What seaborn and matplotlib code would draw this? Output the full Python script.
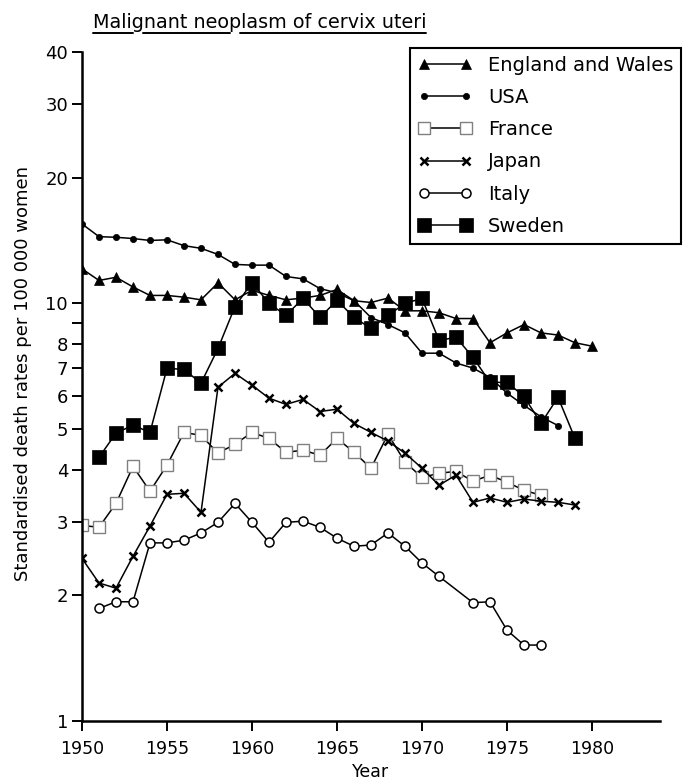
import numpy as np
import pandas as pd
import matplotlib
matplotlib.use("Agg")
import matplotlib.pyplot as plt
import seaborn as sns
from matplotlib.lines import Line2D
from matplotlib.ticker import FixedLocator, NullLocator

# ---------------- data ----------------
england_years = list(range(1950, 1981))
england = [12.1, 11.35, 11.55, 10.95, 10.45, 10.45, 10.35, 10.2, 11.2, 10.2,
           10.75, 10.45, 10.2, 10.3, 10.45, 10.8, 10.15, 10.05, 10.3, 9.6,
           9.6, 9.5, 9.2, 9.2, 8.05, 8.5, 8.9, 8.5, 8.4, 8.05, 7.9]

usa_years = list(range(1950, 1979))
usa = [15.5, 14.45, 14.4, 14.3, 14.15, 14.2, 13.75, 13.55, 13.1, 12.4,
       12.35, 12.35, 11.6, 11.45, 10.85, 10.6, 10.15, 9.25, 8.9, 8.5,
       7.6, 7.6, 7.2, 7.0, 6.65, 6.1, 5.7, 5.35, 5.1]

france_years = list(range(1950, 1978))
france = [2.94, 2.91, 3.32, 4.07, 3.55, 4.1, 4.91, 4.83, 4.38, 4.6,
          4.91, 4.75, 4.4, 4.45, 4.33, 4.75, 4.4, 4.03, 4.86, 4.17,
          3.83, 3.92, 3.96, 3.75, 3.88, 3.73, 3.57, 3.47]

japan_years = list(range(1950, 1980))
japan = [2.45, 2.14, 2.08, 2.48, 2.93, 3.49, 3.51, 3.16, 6.3, 6.8,
         6.37, 5.93, 5.73, 5.89, 5.51, 5.58, 5.16, 4.91, 4.68, 4.38,
         4.03, 3.67, 3.88, 3.34, 3.42, 3.34, 3.4, 3.36, 3.34, 3.29]

italy_years = list(range(1951, 1972)) + list(range(1973, 1978))
italy = [1.86, 1.93, 1.93, 2.67, 2.67, 2.71, 2.82, 2.99, 3.32,
         2.99, 2.68, 2.99, 3.01, 2.91, 2.74, 2.62, 2.64, 2.82, 2.62,
         2.39, 2.22, 1.92, 1.93, 1.65, 1.52, 1.52]

sweden_years = list(range(1951, 1980))
sweden = [4.28, 4.89, 5.11, 4.91, 6.99, 6.95, 6.44, 7.8, 9.83,
          11.22, 10.0, 9.36, 10.28, 9.26, 10.17, 9.26, 8.71, 9.36, 10.0,
          10.28, 8.16, 8.29, 7.43, 6.47, 6.47, 5.99, 5.16, 5.96, 4.75]

countries = ["England and Wales", "USA", "France", "Japan", "Italy", "Sweden"]
x_ticks = [1950, 1955, 1960, 1965, 1970, 1975, 1980]
y_ticks = [1, 2, 3, 4, 5, 6, 7, 8, 9, 10, 20, 30, 40]
y_ticklabels = ["1", "2", "3", "4", "5", "6", "7", "8", "", "10", "20", "30", "40"]
title = "Malignant neoplasm of cervix uteri"

series = {
    "England and Wales": (england_years, england),
    "USA": (usa_years, usa),
    "France": (france_years, france),
    "Japan": (japan_years, japan),
    "Italy": (italy_years, italy),
    "Sweden": (sweden_years, sweden),
}

styles = {
    "England and Wales": dict(marker="^", markersize=7.5, markerfacecolor="black", markeredgecolor="black", markeredgewidth=0.5),
    "USA": dict(marker="o", markersize=4.5, markerfacecolor="black", markeredgecolor="black", markeredgewidth=0.5),
    "France": dict(marker="s", markersize=8, markerfacecolor="white", markeredgecolor="0.5", markeredgewidth=1.0),
    "Japan": dict(marker="x", markersize=5.5, markerfacecolor="black", markeredgecolor="black", markeredgewidth=1.8),
    "Italy": dict(marker="o", markersize=6.5, markerfacecolor="white", markeredgecolor="black", markeredgewidth=1.1),
    "Sweden": dict(marker="s", markersize=9.5, markerfacecolor="black", markeredgecolor="black", markeredgewidth=0.5),
}

# ---------------- plot ----------------
sns.set_style("ticks")
plt.rcParams["font.family"] = ["DejaVu Sans"]
plt.rcParams["text.color"] = "black"
plt.rcParams["axes.labelcolor"] = "black"
plt.rcParams["xtick.color"] = "black"
plt.rcParams["ytick.color"] = "black"

W, H = 689, 783
fig = plt.figure(figsize=(W / 100, H / 100), dpi=100)
ax_left, ax_right, ax_top, ax_bottom = 82, 660, 52, 721
ax = fig.add_axes([ax_left / W, 1 - ax_bottom / H, (ax_right - ax_left) / W, (ax_bottom - ax_top) / H])

for name in countries:
    yrs, vals = series[name]
    df = pd.DataFrame({"Year": yrs, "Rate": vals})
    sns.lineplot(data=df, x="Year", y="Rate", ax=ax, color="black", linewidth=1.1,
                 label=name, legend=False, **styles[name])

ax.set_yscale("log")
ax.set_xlim(1950, 1984)
ax.set_ylim(1, 40)
ax.xaxis.set_major_locator(FixedLocator(x_ticks))
ax.xaxis.set_minor_locator(NullLocator())
ax.yaxis.set_major_locator(FixedLocator(y_ticks))
ax.yaxis.set_minor_locator(NullLocator())
ax.set_yticklabels(y_ticklabels)
ax.set_xticklabels([str(t) for t in x_ticks])

sns.despine(ax=ax)
for s in ["left", "bottom"]:
    ax.spines[s].set_linewidth(1.8)
    ax.spines[s].set_color("black")
ax.tick_params(axis="y", which="major", direction="out", length=7, width=1.4,
               colors="black", labelcolor="black", labelsize=13, pad=3)
ax.tick_params(axis="x", which="major", direction="out", length=7, width=1.4,
               colors="black", labelcolor="black", labelsize=12.5, pad=7)

ax.set_xlabel("Year", fontsize=12.5, labelpad=3, color="black")
ax.set_ylabel("Standardised death rates per 100 000 women", fontsize=13, color="black")
ax.yaxis.set_label_coords(-0.087, 0.52)

handles = [l for l in ax.lines if l.get_label() in countries]
leg = ax.legend(handles=handles, labels=countries, loc="upper left",
                bbox_to_anchor=((410 - ax_left) / (ax_right - ax_left), (ax_bottom - 48) / (ax_bottom - ax_top)),
                borderaxespad=0, numpoints=2, handlelength=2.8, handletextpad=0.8,
                labelspacing=0.68, fontsize=14, frameon=True, fancybox=False,
                borderpad=0.4, framealpha=1)
leg.get_frame().set_edgecolor("black")
leg.get_frame().set_linewidth(1.5)
for txt in leg.get_texts():
    txt.set_color("black")

# title with broken underline (gaps at descenders)
tsize = 13.8
tx, ty = 93, 22
t = fig.text(tx / W, 1 - ty / H, title, fontsize=tsize, ha="left", va="center", color="black")
fig.canvas.draw()
renderer = fig.canvas.get_renderer()

def width_of(s):
    tmp = fig.text(0, 0, s, fontsize=tsize)
    w = tmp.get_window_extent(renderer).width
    tmp.remove()
    return w

bb = t.get_window_extent(renderer)
x0 = bb.x0
uy = bb.y0 - 1
gaps = []
for i, ch in enumerate(title):
    if ch in "gpy":
        a = x0 + width_of(title[:i]) if i > 0 else x0
        b = x0 + width_of(title[:i + 1])
        gaps.append((a + 1, b - 1))
segs = []
cur = x0
for a, b in gaps:
    segs.append((cur, a))
    cur = b
segs.append((cur, bb.x1))
for a, b in segs:
    fig.add_artist(Line2D([a / W, b / W], [uy / H, uy / H], transform=fig.transFigure,
                          color="black", linewidth=1.4))

fig.savefig("out.png", dpi=100)
